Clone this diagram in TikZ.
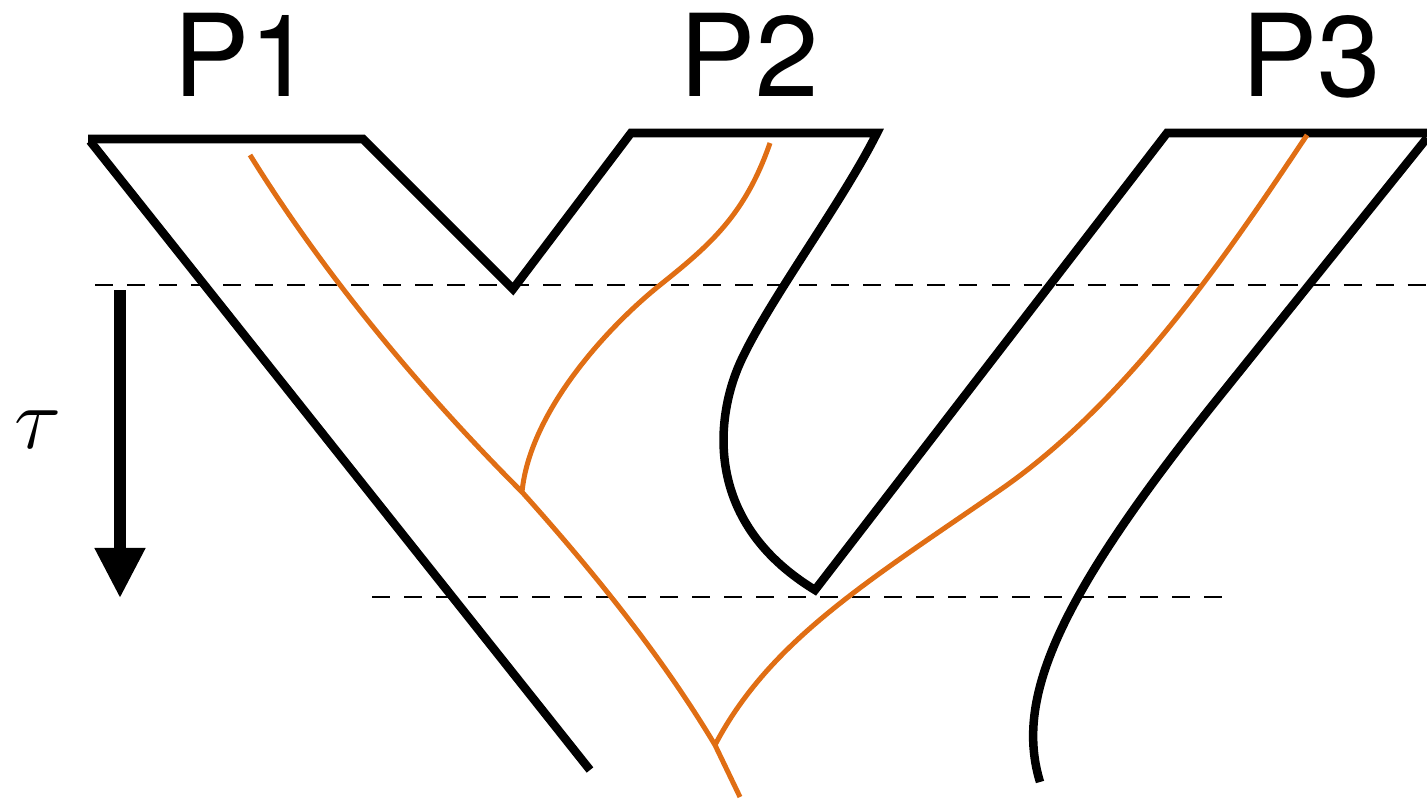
\documentclass[tikz,border=0pt]{standalone}
\usepackage{fontspec}
\newfontfamily\labelfont{TeX Gyre Heros}
\usetikzlibrary{arrows.meta}
\definecolor{branchorange}{RGB}{224,110,20}
\tikzset{
  wall/.style={line width=0.085cm, line join=miter, black},
  branch/.style={line width=0.05cm, branchorange, line cap=butt},
  slice/.style={line width=0.022cm, dash pattern=on 0.18cm off 0.14cm, black},
  timearrow/.style={line width=0.11cm, -{Triangle[length=0.5cm,width=0.48cm]}},
  plabel/.style={font=\labelfont\fontsize{32.5}{36}\selectfont, anchor=base, inner sep=0pt},
}
\begin{document}
\begin{tikzpicture}[x=0.01cm, y=-0.01cm]
\useasboundingbox (0,0) rectangle (1427,800);
% labels
\node[plabel] (p1) at (243,97) {P1};
\node[plabel] (p2) at (749,97) {P2};
\node[plabel] (p3) at (1311,97) {P3};
\node[anchor=base, inner sep=0pt] (tau) at (38,448) {\fontsize{32}{36}\selectfont$\tau$};
% dashed slices
\coordinate (s1a) at (95,285); \coordinate (s1b) at (1427,285);
\coordinate (s2a) at (372,597); \coordinate (s2b) at (1236,597);
\draw[slice] (s1a) -- (s1b);
\draw[slice] (s2a) -- (s2b);
% time arrow
\coordinate (ta) at (120,290); \coordinate (tb) at (120,598);
\draw[timearrow] (ta) -- (tb);
% black walls
\draw[wall] (590,770) -- (90,141);
\draw[wall] (88,139) -- (363,139) -- (513,289) -- (631,133) -- (877,133)
  .. controls (842,203) and (767,303) .. (740,363)
  .. controls (717.5,413) and (700,520) .. (815,590)
  -- (1167,133) -- (1427,133);
\draw[wall] (1427,138) -- (1215,402)
  .. controls (1055,602) and (1015,700) .. (1040,782);
% orange branches
\coordinate (j1) at (522,492);
\coordinate (j2) at (715,745);
\draw[branch] (250,155) .. controls (340,300) and (450,420) .. (j1)
  .. controls (610,590) and (670,670) .. (j2) -- (740,797);
\draw[branch] (770,143) .. controls (745,215) and (710,245) .. (660,285)
  .. controls (610,325) and (530,410) .. (j1);
\draw[branch] (1307,135) .. controls (1230,250) and (1130,400) .. (1000,490)
  .. controls (870,580) and (770,640) .. (j2);
\end{tikzpicture}
\end{document}
